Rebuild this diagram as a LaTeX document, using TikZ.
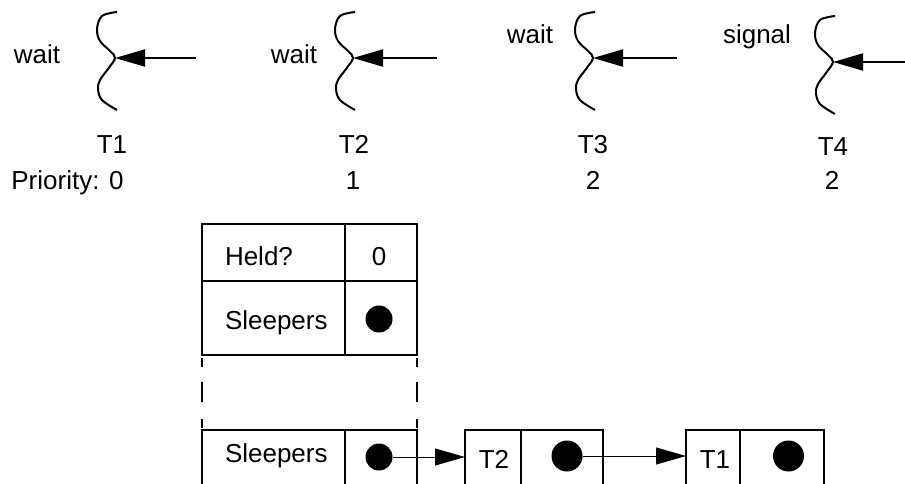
\documentclass[tikz,border=0pt]{standalone}
\usepackage{fontspec}
\setmainfont{Liberation Sans}
\usetikzlibrary{arrows.meta,positioning}

\begin{document}
\begin{tikzpicture}[x=0.5pt,y=-0.5pt,
 every node/.style={font=\fontsize{13}{15}\selectfont,inner sep=0pt,outer sep=0pt},
 wave/.style={line width=1pt},
 push/.style={line width=1pt,-{Triangle[length=15pt,width=8.5pt]}},
 link/.style={line width=0.5pt,-{Triangle[length=15pt,width=8.5pt]}},
 frame/.style={line width=1pt},
 cell/.style={draw,line width=1pt},
 slot/.style={minimum height=25pt,anchor=north west},
 ball/.style={circle,fill,minimum size=#1},
 guide/.style={line width=0.6pt,dash pattern=on 0pt off 1.5pt on 4.5pt off 7.5pt on 10pt off 8.5pt on 4.5pt off 2pt},
 thread/.pic={\draw[wave] plot[smooth,tension=0.6] coordinates {(2,-46) (-13,-42) (-18,-29) (-15,-17) (-5,-7) (0,0) (-7,11) (-15,22) (-17,31) (-13,42) (2,52)};}]
\useasboundingbox (0,0) rectangle (905,483);
% threads with their calls
\coordinate (tip1) at (115,58); \coordinate (src1) at (196,58);
\coordinate (tip2) at (353,58); \coordinate (src2) at (437,58);
\coordinate (tip3) at (593,58); \coordinate (src3) at (677,58);
\coordinate (tip4) at (833,62); \coordinate (src4) at (906,62);
\pic at (tip1) {thread}; \pic at (tip2) {thread};
\pic at (tip3) {thread}; \pic at (tip4) {thread};
\draw[push](src1)--(tip1);\draw[push](src2)--(tip2);\draw[push](src3)--(tip3);\draw[push](src4)--(tip4);
\node[anchor=base] (op1) at (37,63) {wait};
\node[anchor=base] (op2) at (294,63) {wait};
\node[anchor=base] (op3) at (530,43) {wait};
\node[anchor=base] (op4) at (757,43) {signal};
\node[anchor=base] (name1) at (112,153) {T1};
\node[anchor=base] (name2) at (354,153) {T2};
\node[anchor=base] (name3) at (593,153) {T3};
\node[anchor=base] (name4) at (833,155.5) {T4};
\node[anchor=base] (prio1) at (67.5,189) {Priority: 0};
\node[anchor=base] (prio2) at (353,189) {1};
\node[anchor=base] (prio3) at (593,189) {2};
\node[anchor=base] (prio4) at (832,189) {2};
% lock record
\node[cell,minimum width=71.5pt,minimum height=28.5pt,anchor=north west] (held) at (202,224) {};
\node[cell,minimum width=36pt,minimum height=28.5pt,right=0pt of held] (heldval) {};
\node[cell,minimum width=71.5pt,minimum height=37pt,below=0pt of held] (sleep) {};
\node[cell,minimum width=36pt,minimum height=37pt,right=0pt of sleep] (sleepval) {};
\node[anchor=base west] (heldtxt) at (225,265) {Held?};
\node[anchor=base] (heldnum) at (379,265) {0};
\node[anchor=base west] (sleeptxt) at (225,329) {Sleepers};
\node[ball=13.5pt] (sleepdot) at (379,319) {};
% zoomed sleepers list
\coordinate (bot) at (0,490);
\node[slot,minimum width=71.5pt] (list) at (202,430) {};
\node[slot,minimum width=36pt] (listval) at (list.north east) {};
\node[slot,minimum width=28pt] (c2) at (465,430) {};
\node[slot,minimum width=41pt] (c2val) at (c2.north east) {};
\node[slot,minimum width=27pt] (c1) at (686,430) {};
\node[slot,minimum width=42pt] (c1val) at (c1.north east) {};
\draw[frame] (list.west |- bot) |- (listval.north east) -- (listval.east |- bot);
\draw[frame] (list.north east) -- (list.east |- bot);
\draw[frame] (c2.west |- bot) |- (c2val.north east) -- (c2val.east |- bot);
\draw[frame] (c2.north east) -- (c2.east |- bot);
\draw[frame] (c1.west |- bot) |- (c1val.north east) -- (c1val.east |- bot);
\draw[frame] (c1.north east) -- (c1.east |- bot);
\draw[guide] (sleep.south west) -- (list.north west);
\draw[guide] (sleepval.south east) -- (listval.north east);
\node[anchor=base west] (listtxt) at (225,462) {Sleepers};
\node[anchor=base] (c2txt) at (494,468) {T2};
\node[anchor=base] (c1txt) at (715,468) {T1};
\node[ball=13.5pt] (listdot) at (379,457) {};
\node[ball=15.5pt] (c2dot) at (567,456) {};
\node[ball=15.5pt] (c1dot) at (788.5,456) {};
\draw[link] (listdot) -- (listdot -| c2.west);
\draw[link] (c2dot) -- (c2dot -| c1.west);
\end{tikzpicture}
\end{document}
